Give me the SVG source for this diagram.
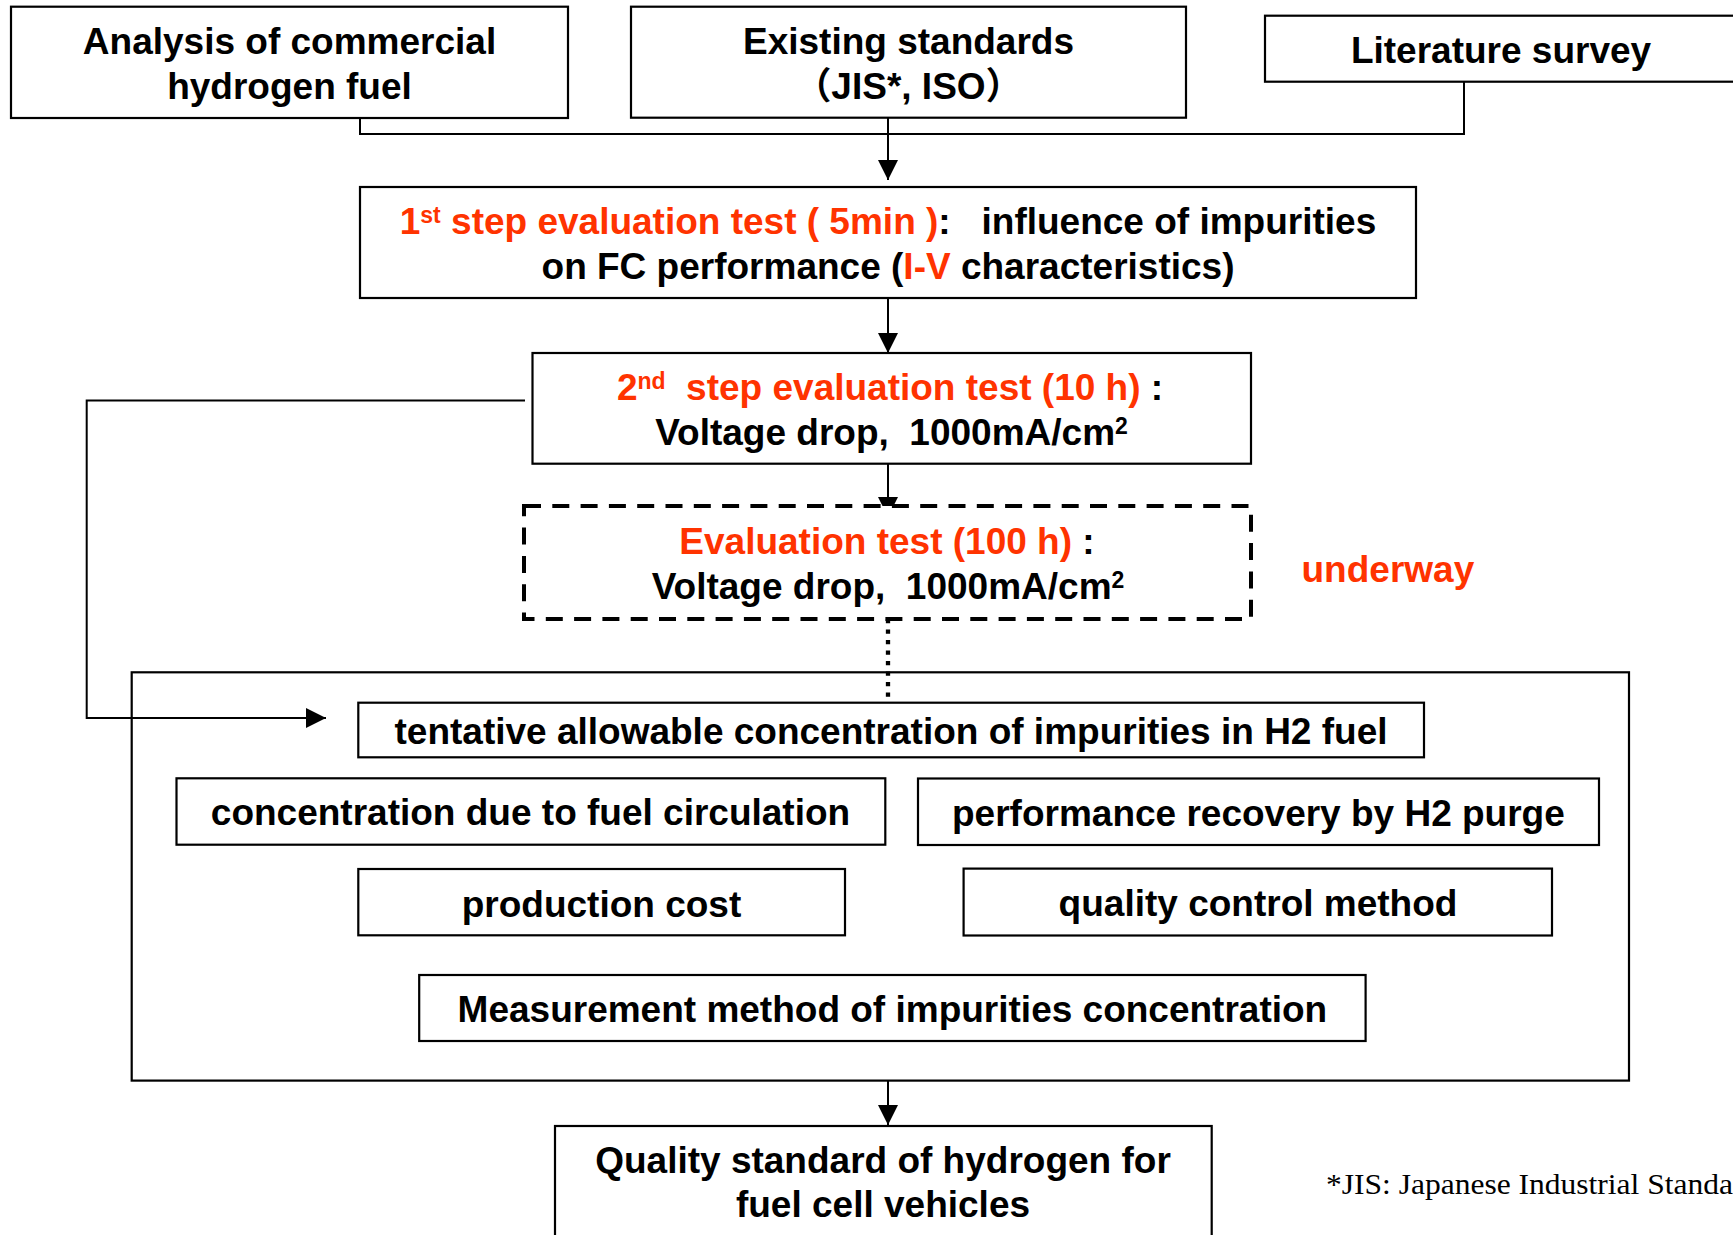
<svg xmlns="http://www.w3.org/2000/svg" width="1733" height="1235" viewBox="0 0 1733 1235">
<defs>
<style>
.box{fill:#fff;stroke:#000;stroke-width:2.2}
.dash{fill:#fff;stroke:#000;stroke-width:4;stroke-dasharray:17 11.3}
.con{fill:none;stroke:#000;stroke-width:2}
.dot{fill:none;stroke:#000;stroke-width:4.3;stroke-dasharray:4.3 6.2}
.t{font-family:"Liberation Sans",Arial,"Noto Sans CJK JP",sans-serif;font-weight:bold;font-size:37px;fill:#000;text-anchor:middle}
.r{fill:#FF3300}
.sup{font-size:23px}
.fn{font-family:"Liberation Serif","Times New Roman",serif;font-size:29px;fill:#000}
</style>
<marker id="ah" viewBox="0 0 20 20" refX="20" refY="10" markerWidth="20" markerHeight="20" markerUnits="userSpaceOnUse" orient="auto"><path d="M0,0L20,10L0,20z" fill="#000"/></marker>
</defs>
<rect x="0" y="0" width="1733" height="1235" fill="#fff"/>
<g id="container"><rect class="box" x="131.7" y="672.3" width="1497.3" height="408.3"/></g>
<g id="connectors">
<path class="con" d="M360,118V134H1464V82"/>
<path class="con" d="M888,117V180" marker-end="url(#ah)"/>
<path class="con" d="M888,298V353" marker-end="url(#ah)"/>
<path class="con" d="M888,464V517" marker-end="url(#ah)"/>
<path class="dot" d="M888,619V703"/>
<path class="con" d="M525,400.5H86.7V718H326" marker-end="url(#ah)"/>
<path class="con" d="M888,1080V1125" marker-end="url(#ah)"/>
</g>
<g id="analysis">
<rect class="box" x="11" y="6.7" width="557" height="111.3"/>
<text class="t" x="289.5" y="54">Analysis of commercial</text>
<text class="t" x="289.5" y="99">hydrogen fuel</text>
</g>
<g id="standards">
<rect class="box" x="631" y="6.7" width="555" height="111"/>
<text class="t" x="908.5" y="54">Existing standards</text>
<text class="t" x="908.5" y="99">（JIS*, ISO）</text>
</g>
<g id="literature">
<rect class="box" x="1265" y="15.7" width="500" height="66"/>
<text class="t" x="1501" y="63">Literature survey</text>
</g>
<g id="step1">
<rect class="box" x="360" y="187" width="1056" height="111"/>
<text class="t" x="888" y="234.3" xml:space="preserve"><tspan class="r">1</tspan><tspan class="r sup" dy="-11">st</tspan><tspan class="r" dy="11"> step evaluation test ( 5min )</tspan>:   influence of impurities</text>
<text class="t" x="888" y="279.3" xml:space="preserve">on FC performance (<tspan class="r">I-V</tspan> characteristics)</text>
</g>
<g id="step2">
<rect class="box" x="532.5" y="353" width="718.5" height="110.7"/>
<text class="t" x="890" y="400.3" xml:space="preserve"><tspan class="r">2</tspan><tspan class="r sup" dy="-11">nd</tspan><tspan class="r" dy="11">  step evaluation test (10 h)</tspan> :</text>
<text class="t" x="891.5" y="445" xml:space="preserve">Voltage drop,  1000mA/cm<tspan class="sup" dy="-11">2</tspan></text>
</g>
<g id="step3">
<rect class="dash" x="524" y="506" width="727" height="113"/>
<text class="t" x="887" y="553.7" xml:space="preserve"><tspan class="r">Evaluation test (100 h)</tspan> :</text>
<text class="t" x="888" y="599" xml:space="preserve">Voltage drop,  1000mA/cm<tspan class="sup" dy="-11">2</tspan></text>
</g>
<g id="underway">
<text class="t r" x="1301.5" y="582" style="text-anchor:start">underway</text>
</g>
<g id="tentative">
<rect class="box" x="358.3" y="702.7" width="1065.7" height="54.6"/>
<text class="t" x="891" y="744">tentative allowable concentration of impurities in H2 fuel</text>
</g>
<g id="circulation">
<rect class="box" x="176.5" y="778.3" width="708.8" height="66.4"/>
<text class="t" x="530.5" y="825">concentration due to fuel circulation</text>
</g>
<g id="purge">
<rect class="box" x="918" y="778.5" width="681" height="66.5"/>
<text class="t" x="1258.4" y="825.6">performance recovery by H2 purge</text>
</g>
<g id="cost">
<rect class="box" x="358.3" y="869" width="486.7" height="66.3"/>
<text class="t" x="601.5" y="916.5">production cost</text>
</g>
<g id="qc">
<rect class="box" x="963.6" y="868.6" width="588.4" height="66.9"/>
<text class="t" x="1258" y="916">quality control method</text>
</g>
<g id="measurement">
<rect class="box" x="419.2" y="975" width="946.4" height="66"/>
<text class="t" x="892.4" y="1022">Measurement method of impurities concentration</text>
</g>
<g id="quality">
<rect class="box" x="555" y="1126" width="656.7" height="130"/>
<text class="t" x="883" y="1173.2">Quality standard of hydrogen for</text>
<text class="t" x="883" y="1217.2">fuel cell vehicles</text>
</g>
<g id="footnote">
<text class="fn" x="1326" y="1193.5" textLength="407" lengthAdjust="spacingAndGlyphs">*JIS: Japanese Industrial Standa</text>
</g>
</svg>
